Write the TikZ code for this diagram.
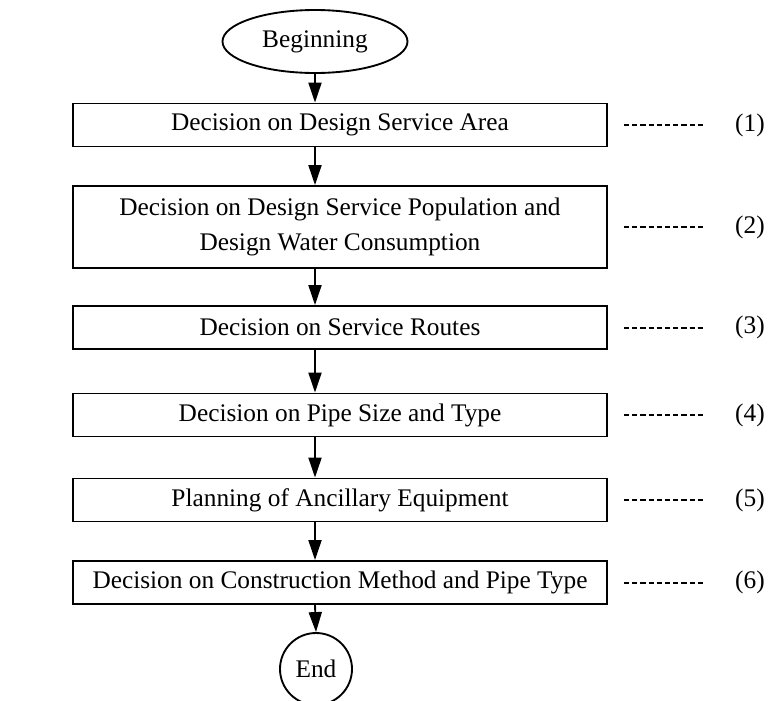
\documentclass[tikz,border=0pt]{standalone}
\usepackage{fontspec}
\setmainfont{Liberation Serif}
\usepackage{tikz}
\usetikzlibrary{arrows.meta,shapes.geometric}
\newcommand{\flowfont}{\fontsize{19}{26.25}\selectfont}

\begin{document}
\begin{tikzpicture}[line cap=butt,line join=miter,>={Triangle[length=15pt,width=9.75pt]},x=0.75pt,y=-0.75pt,
    stepbox/.style={draw,line width=1.4pt,minimum width=400.5pt,minimum height=32.25pt,inner sep=0pt,align=center,font=\flowfont},
    terminal/.style={draw,ellipse,line width=1.4pt,inner sep=0pt,font=\flowfont},
    tag/.style={inner sep=0pt,font=\flowfont},
    leader/.style={line width=1.5pt,dash pattern=on 3.9pt off 2.25pt},
    flow/.style={->,line width=1.4pt}]
  \useasboundingbox (0,0) rectangle (771,700);
  % start and end
  \node[terminal,minimum width=138.75pt,minimum height=47.25pt] (start) at (315,41.5) {Beginning};
  \node[terminal,circle,minimum size=54pt] (stop) at (316,669) {End};
  % the six steps
  \node[stepbox] (b1) at (340,125) {Decision on Design Service Area};
  \node[stepbox,minimum height=61.5pt] (b2) at (340,227) {Decision on Design Service Population and\\Design Water Consumption};
  \node[stepbox] (b3) at (340,327.5) {Decision on Service Routes};
  \node[stepbox] (b4) at (340,415) {Decision on Pipe Size and Type};
  \node[stepbox] (b5) at (340,500) {Planning of Ancillary Equipment};
  \node[stepbox] (b6) at (340,582.5) {Decision on Construction Method and Pipe Type};
  % arrows down the middle
  \draw[flow] (start.south) -- (start.south |- b1.north);
  \foreach \a/\b in {b1/b2,b2/b3,b3/b4,b4/b5,b5/b6}
    \draw[flow] (start.south |- \a.south) -- (start.south |- \b.north);
  \draw[flow] (start.south |- b6.south) -- (stop.north);
  % numbering on the right
  \foreach \i in {1,...,6}{
    \node[tag] (t\i) at ([xshift=106.5pt]b\i.east) {(\i)};
    \draw[leader] ([xshift=12pt]b\i.east) -- ([xshift=-22pt]t\i.west);
  }
\end{tikzpicture}
\end{document}
